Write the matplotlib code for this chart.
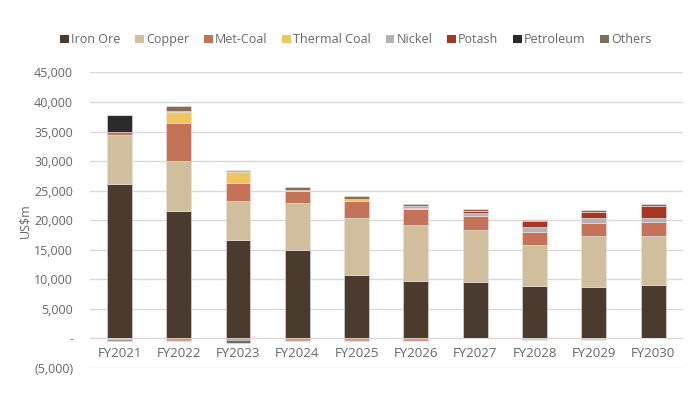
import numpy as np
import matplotlib
matplotlib.use("Agg")
import matplotlib.pyplot as plt
from matplotlib.ticker import FuncFormatter
from matplotlib.patches import Patch

years = ["FY2021", "FY2022", "FY2023", "FY2024", "FY2025",
         "FY2026", "FY2027", "FY2028", "FY2029", "FY2030"]
series = ["Iron Ore", "Copper", "Met-Coal", "Thermal Coal",
          "Nickel", "Potash", "Petroleum", "Others"]

# Positive contributions (US$m)
iron_ore     = [26200, 21600, 16600, 15000, 10700, 9700, 9500, 8900, 8750, 9000]
copper       = [8300, 8500, 6600, 7950, 9750, 9450, 8900, 6850, 8550, 8400]
met_coal     = [500, 6350, 3100, 1950, 2800, 2800, 2250, 2250, 2250, 2250]
thermal_coal = [0, 1800, 1850, 300, 400, 150, 100, 0, 0, 0]
nickel       = [0, 300, 400, 0, 0, 300, 550, 850, 750, 800]
potash       = [0, 0, 0, 0, 0, 0, 300, 1000, 1100, 1900]
petroleum    = [2800, 0, 0, 0, 0, 0, 0, 0, 0, 0]
others       = [0, 850, 0, 400, 450, 400, 350, 250, 400, 350]

# Negative contributions (US$m)
iron_ore_neg     = [0, 0, 0, 0, 0, 0, 0, 0, 0, 0]
copper_neg       = [-150, 0, 0, 0, 0, 0, 0, -200, -200, 0]
met_coal_neg     = [0, -400, -200, -400, -400, -400, 0, 0, 0, 0]
thermal_coal_neg = [0, 0, 0, 0, 0, 0, 0, 0, 0, 0]
nickel_neg       = [0, 0, 0, 0, 0, 0, 0, 0, 0, 0]
potash_neg       = [0, 0, 0, 0, 0, 0, 0, 0, 0, 0]
petroleum_neg    = [0, 0, -500, 0, 0, 0, 0, 0, 0, 0]
others_neg       = [-300, 0, 0, 0, 0, 0, 0, 0, 0, 0]

colors = ["#4B3A2E", "#D1BE9C", "#C47258", "#EEC55E",
          "#B3B3B3", "#A83424", "#2B2B2B", "#7F6E5C"]

pos = [iron_ore, copper, met_coal, thermal_coal, nickel, potash, petroleum, others]
neg = [iron_ore_neg, copper_neg, met_coal_neg, thermal_coal_neg,
       nickel_neg, potash_neg, petroleum_neg, others_neg]

plt.rcParams["font.family"] = ["Open Sans", "DejaVu Sans"]
text_color = "#666666"

fig = plt.figure(figsize=(6.91, 3.99), dpi=100)
ax = fig.add_axes([0.130, 0.0777, 0.858, 0.7406])

x = np.arange(len(years))
width = 0.42
pos_base = np.zeros(len(years))
neg_base = np.zeros(len(years))
for vals, nvals, c in zip(pos, neg, colors):
    v = np.array(vals, dtype=float)
    nv = np.array(nvals, dtype=float)
    ax.bar(x, v, width, bottom=pos_base, color=c, edgecolor="#E8E4E0",
           linewidth=0.4, zorder=3)
    ax.bar(x, nv, width, bottom=neg_base, color=c, edgecolor="#E8E4E0",
           linewidth=0.4, zorder=3, alpha=0.7)
    pos_base += v
    neg_base += nv

ax.set_xlim(-0.5, len(years) - 0.5)
ax.set_ylim(-5000, 45000)
ax.set_yticks(np.arange(-5000, 45001, 5000))


def fmt(v, _):
    if v == 0:
        return "-"
    if v < 0:
        return "({:,.0f})".format(-v)
    return "{:,.0f}".format(v)


ax.yaxis.set_major_formatter(FuncFormatter(fmt))
ax.set_xticks(x)
ax.set_xticklabels(years)
# category labels sit just under the zero line
ax.spines["bottom"].set_position(("data", 0))
ax.tick_params(axis="y", length=0, labelsize=9, colors=text_color, pad=12)
ax.tick_params(axis="x", length=0, labelsize=9.5, colors=text_color, pad=6)
ax.grid(axis="y", color="#D9D9D9", linewidth=1, zorder=0)
for s in ax.spines.values():
    s.set_visible(False)
ax.set_ylabel("US$m", color=text_color, fontsize=9, labelpad=2)

handles = [Patch(facecolor=c, edgecolor="none") for c in colors]
fig.legend(handles, series, loc="center", bbox_to_anchor=(0.515, 0.9),
           ncol=8, frameon=False, fontsize=9, handlelength=0.7,
           handleheight=0.7, handletextpad=0.15, columnspacing=1.2,
           labelcolor=text_color)

fig.savefig("out.png", dpi=100)
